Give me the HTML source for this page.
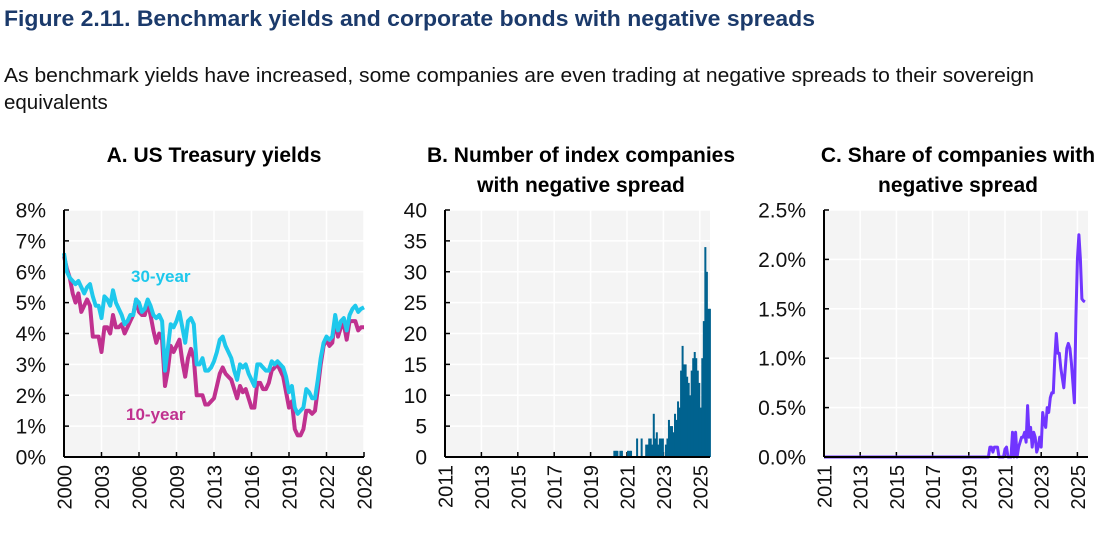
<!DOCTYPE html>
<html><head><meta charset="utf-8">
<style>
body{margin:0;background:#fff;width:1116px;height:542px;overflow:hidden;font-family:"Liberation Sans",Arial,sans-serif}
</style></head><body>
<svg id="chart" width="1116" height="542" xmlns="http://www.w3.org/2000/svg" font-family="Liberation Sans, Arial, sans-serif">
<text x="4" y="26" font-size="22.5" font-weight="bold" fill="#1b3a6b" textLength="811" lengthAdjust="spacingAndGlyphs">Figure 2.11. Benchmark yields and corporate bonds with negative spreads</text>
<text x="4" y="82" font-size="20.5" fill="#111" textLength="1030" lengthAdjust="spacingAndGlyphs">As benchmark yields have increased, some companies are even trading at negative spreads to their sovereign</text>
<text x="4" y="109" font-size="20.5" fill="#111">equivalents</text>
<text x="214" y="162" font-size="21" font-weight="bold" text-anchor="middle">A. US Treasury yields</text>
<text x="581" y="162" font-size="21" font-weight="bold" text-anchor="middle">B. Number of index companies</text>
<text x="581" y="192" font-size="21" font-weight="bold" text-anchor="middle">with negative spread</text>
<text x="958" y="162" font-size="21" font-weight="bold" text-anchor="middle">C. Share of companies with</text>
<text x="958" y="192" font-size="21" font-weight="bold" text-anchor="middle">negative spread</text>
</svg>
<script>
// Panel A data (quarterly from 2000)
const yield30 = [6.6,6.0,5.8,5.7, 5.6,5.7,5.5,5.3, 5.5,5.6,5.2,4.9, 4.9,4.5,5.2,5.1, 4.9,5.4,5.0,4.8, 4.6,4.3,4.4,4.6, 4.6,5.1,5.0,4.7, 4.8,5.1,4.9,4.6, 4.5,4.6,4.4,2.8, 3.5,4.3,4.2,4.4, 4.7,4.2,3.7,4.4, 4.5,4.3,3.0,3.0, 3.2,2.8,2.8,2.9, 3.1,3.4,3.8,3.9, 3.6,3.4,3.2,2.8, 2.5,3.0,2.9,3.0, 2.7,2.5,2.3,3.0, 3.0,2.9,2.8,2.8, 3.1,3.0,3.1,3.0, 2.9,2.6,2.1,2.3, 1.6,1.4,1.5,1.6, 2.2,2.1,1.9,1.9, 2.5,3.2,3.7,3.9, 3.8,3.9,4.6,4.1, 4.4,4.5,4.1,4.6, 4.8,4.9,4.7,4.8, 4.85];
const yield10 = [6.5,6.1,5.8,5.3, 5.0,5.3,4.7,4.9, 5.1,4.9,3.9,3.9, 3.9,3.4,4.2,4.2, 4.0,4.6,4.2,4.2, 4.3,4.0,4.2,4.4, 4.6,5.1,4.7,4.6, 4.6,5.0,4.6,4.1, 3.7,4.0,3.8,2.3, 2.8,3.6,3.4,3.6, 3.8,3.1,2.6,3.2, 3.5,3.2,2.0,2.0, 2.0,1.7,1.7,1.8, 1.9,2.3,2.7,2.9, 2.7,2.6,2.5,2.2, 1.9,2.3,2.1,2.2, 1.9,1.6,1.6,2.4, 2.4,2.2,2.2,2.4, 2.8,2.9,3.0,2.8, 2.6,2.1,1.6,1.8, 0.9,0.7,0.7,0.9, 1.5,1.5,1.4,1.5, 2.2,3.0,3.6,3.8, 3.6,3.7,4.5,3.9, 4.2,4.3,3.8,4.4, 4.4,4.4,4.1,4.2, 4.2];
const aTicksY = [0,1,2,3,4,5,6,7,8];
const aTicksX = ["2000","2003","2006","2009","2013","2016","2019","2022","2026"];
// Panel B data (monthly from Apr 2020)
const bStart = 2020.25;
const negCount = [1,1,1,0,1,1,0,0,0, 1,1,1,0,0,0,3,0,0,3,0,0, 2,2,3,3,2,7,3,4,2,3,3,3, 0,2,3,6,5,5,4,7,6,9,8,14, 18,15,15,13,12,10,14,16,17,16,14,12, 8,16,22,34,30,24,24];
const bTicksY = [0,5,10,15,20,25,30,35,40];
const yearTicks = [2011,2013,2015,2017,2019,2021,2023,2025];
// Panel C data (monthly from Jan 2011)
const cStart = 2011;
const cZeroMonths = 108;
const shareTail = [0,0,0.1,0.1,0.05,0.1,0.1,0.1,0,0,0,0, 0.08,0.1,0,0,0,0.25,0,0.25,0,0.1,0.15,0.2, 0.2,0.25,0.15,0.52,0.2,0.3,0.1,0.25,0.2,0.05,0.1,0.2, 0.1,0.45,0.35,0.3,0.5,0.45,0.6,0.65,0.65,1.0,1.25,1.05, 1.05,0.9,0.8,0.7,0.9,1.1,1.15,1.1,0.95,0.75,0.55,1.4, 2.0,2.25,2.0,1.6,1.58,1.57];
const cTicksY = ["0.0%","0.5%","1.0%","1.5%","2.0%","2.5%"];

const svg = document.getElementById('chart');
const NS = 'http://www.w3.org/2000/svg';
function mk(tag, attrs){const e=document.createElementNS(NS,tag);for(const k in attrs)e.setAttribute(k,attrs[k]);svg.appendChild(e);return e;}
const TOP=210, BOT=457;

function frame(x0,x1,yTicks,yMax,yLabels,xPos,xLabels,prefix){
  const bg=mk('rect',{x:x0,y:TOP,width:x1-x0,height:BOT-TOP,fill:'#f4f4f4'});
  
  
  yTicks.forEach((v,i)=>{
    const y=BOT-(v/yMax)*(BOT-TOP);
    if(v>0){const g=mk('line',{x1:x0,x2:x1,y1:y,y2:y,stroke:'#fff','stroke-width':1.5});
      
      }
    const tk=mk('line',{x1:x0,x2:x0+5,y1:y,y2:y,stroke:'#000','stroke-width':1.5});
    
    
    const t=mk('text',{x:x0-18,y:y+7.5,'font-size':21,'text-anchor':'end',fill:'#111'});
    t.textContent=yLabels[i];
    
    
  });
  xPos.forEach((x,i)=>{
    if(i>0){const g=mk('line',{x1:x,x2:x,y1:TOP,y2:BOT,stroke:'#fff','stroke-width':1.5});
      
      }
    const tk=mk('line',{x1:x,x2:x,y1:BOT-5,y2:BOT,stroke:'#000','stroke-width':1.5});
    
    
    const t=mk('text',{x:0,y:0,'font-size':20,'text-anchor':'end',fill:'#111',transform:`translate(${x+7.5},${BOT+8}) rotate(-90)`});
    t.textContent=xLabels[i];
    
    
  });
}
function axes(x0,x1,prefix){
  const a=mk('line',{x1:x0,x2:x0,y1:TOP,y2:BOT,stroke:'#000','stroke-width':2});
  
  
  const b=mk('line',{x1:x0,x2:x1,y1:BOT,y2:BOT,stroke:'#000','stroke-width':2});
  
  
}

// Panel A
const ax0=64, ax1=364;
const axX = yr => ax0 + (yr-2000)*(ax1-ax0)/26;
const ayY = v => BOT - v/8*(BOT-TOP);
frame(ax0,ax1,aTicksY,8,aTicksY.map(v=>v+'%'),aTicksX.map((_,i)=>ax0+i*(ax1-ax0)/8),aTicksX,'panel-a');
function lineA(arr,color,name){
  const d=arr.map((v,i)=>(i?'L':'M')+axX(2000+i*0.25).toFixed(1)+','+ayY(v).toFixed(1)).join('');
  const p=mk('path',{d,fill:'none',stroke:color,'stroke-width':4,'stroke-linejoin':'round'});
  
  
}
lineA(yield10,'#c0318f','line-10-year');
lineA(yield30,'#1ec8ec','line-30-year');
axes(ax0,ax1,'panel-a');
const l30=mk('text',{x:131,y:282,'font-size':17,'font-weight':'bold',fill:'#1ec8ec'});l30.textContent='30-year';


const l10=mk('text',{x:126,y:420,'font-size':17,'font-weight':'bold',fill:'#c0318f'});l10.textContent='10-year';



// Panel B
const bx0=445, bx1=710;
const bxX = yr => bx0 + (yr-2011)*18.2;
const byY = v => BOT - v/40*(BOT-TOP);
frame(bx0,bx1,bTicksY,40,bTicksY.map(String),yearTicks.map(bxX),yearTicks.map(String),'panel-b');
negCount.forEach((v,i)=>{
  if(v<=0)return;
  const x=bxX(bStart+i/12);
  const r=mk('rect',{x:x.toFixed(2),y:byY(v).toFixed(1),width:2,height:(BOT-byY(v)).toFixed(1),fill:'#00628f'});
  
  
});
axes(bx0,bx1,'panel-b');

// Panel C
const cx0=824, cx1=1088;
const cxX = yr => cx0 + (yr-2011)*18.1;
const cyY = v => BOT - v/2.5*(BOT-TOP);
frame(cx0,cx1,[0,0.5,1,1.5,2,2.5],2.5,cTicksY,yearTicks.map(cxX),yearTicks.map(String),'panel-c');
const share = new Array(cZeroMonths).fill(0).concat(shareTail);
const dC=share.map((v,i)=>(i?'L':'M')+cxX(cStart+i/12).toFixed(1)+','+cyY(v).toFixed(1)).join('');
const pc=mk('path',{d:dC,fill:'none',stroke:'#7135ff','stroke-width':3,'stroke-linejoin':'round'});


axes(cx0,cx1,'panel-c');
</script>
</body></html>
